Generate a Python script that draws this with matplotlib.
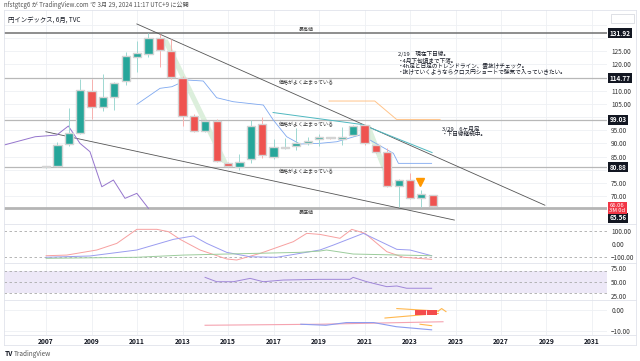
import numpy as np
import matplotlib.pyplot as plt
from matplotlib.lines import Line2D
from matplotlib.patches import Polygon, Rectangle

plt.rcParams['font.family'] = ['Noto Sans CJK JP', 'DejaVu Sans']

# 6-month candles (period start as decimal year)
c_time  = np.arange(2007.0, 2024.01, 0.5)
c_open  = [80.9, 81.3, 89.6, 94.0, 109.9, 103.7, 107.5, 113.7, 122.9, 124.0, 129.9, 125.2,
           115.0, 100.4, 94.8, 98.5, 82.6, 81.1, 83.9, 97.2, 84.7, 88.3, 89.0, 90.0,
           91.5, 92.3, 91.8, 93.2, 97.0, 89.4, 86.6, 73.9, 76.1, 69.1, 70.3]
c_high  = [81.5, 90.5, 103.3, 114.3, 114.3, 116.3, 113.5, 124.8, 128.9, 132.1, 131.6, 129.6,
           115.5, 101.0, 99.0, 99.2, 83.0, 85.9, 98.9, 100.1, 91.5, 91.9, 95.7, 92.5,
           93.5, 92.6, 96.3, 97.0, 97.5, 89.8, 88.1, 76.5, 78.6, 72.3, 70.5]
c_low   = [80.8, 81.0, 89.0, 93.5, 99.1, 102.4, 102.7, 112.2, 117.2, 123.0, 119.1, 114.5,
           96.6, 94.5, 94.5, 83.0, 81.2, 79.9, 82.4, 84.3, 84.2, 87.8, 87.5, 89.5,
           89.0, 91.5, 89.4, 92.8, 89.5, 86.3, 73.5, 65.9, 68.8, 65.9, 65.8]
c_close = [81.2, 89.4, 93.8, 110.3, 103.7, 107.5, 113.1, 123.2, 124.2, 129.9, 125.5, 115.1,
           100.4, 94.8, 98.5, 83.4, 81.5, 83.0, 96.6, 85.6, 88.7, 88.7, 90.0, 91.0,
           92.5, 92.0, 92.5, 96.6, 90.0, 86.7, 73.9, 76.1, 69.1, 70.7, 66.06]

levels       = [131.92, 114.77, 99.03, 80.88, 65.56]
level_names  = ['最高値', '価格がよく止まっている', '価格がよく止まっている', '価格がよく止まっている', '最底値']
price_ticks  = [70, 75, 85, 90, 95, 105, 110, 120, 125]
last_price   = 66.06

# trend lines / indicator lines on price panel
upper_tl_t = [2010.99, 2028.93]
upper_tl_p = [135.4, 66.5]
lower_tl_t = [2006.99, 2024.95]
lower_tl_p = [94.43, 60.86]
teal_t = [2016.98, 2020.89, 2023.97]
teal_p = [101.73, 97.17, 86.52]
orange_t = [2019.44, 2021.45, 2022.41, 2024.32]
orange_p = [106.1, 106.1, 99.1, 99.1]
kijun_t = [2010.99, 2012.01, 2012.53, 2013.18, 2013.91, 2014.50, 2015.23, 2016.55, 2016.99,
           2017.58, 2018.16, 2019.04, 2019.78, 2020.80, 2021.24, 2022.27, 2022.49, 2023.95]
kijun_p = [104.85, 110.93, 111.54, 114.09, 113.71, 107.36, 105.84, 104.58, 98.88,
           92.53, 89.75, 90.02, 90.63, 93.18, 91.28, 86.22, 82.41, 82.41]
lag_t = [2005.15, 2006.52, 2007.47, 2007.98, 2008.49, 2008.93, 2009.45, 2009.96, 2010.47, 2010.99, 2011.50]
lag_p = [89.37, 92.53, 93.17, 96.6, 90.02, 86.83, 73.52, 76.07, 69.11, 71.01, 65.3]
marker_t, marker_p = 2023.44, 75.4

# oscillator panel
osc_red_t = [2007.0, 2007.91, 2009.23, 2010.11, 2010.99, 2011.87, 2012.38, 2012.89, 2013.77, 2014.94, 2015.38,
             2016.41, 2017.87, 2018.46, 2019.04, 2019.92, 2020.44, 2021.02, 2021.98, 2022.71, 2023.95]
osc_red_v = [-90, -85, -46, 5, 113, 113, 95, 36, -46, -115, -123, -72, 18, 82, 74, 44, 113, 82, -59, -102, -118]
osc_blue_t = [2007.0, 2008.93, 2010.99, 2012.6, 2013.47, 2014.06, 2014.94, 2015.97, 2017.14, 2018.16,
              2019.04, 2019.63, 2020.95, 2022.42, 2023.0, 2023.95]
osc_blue_v = [-102, -92, -46, 36, 62, 5, -64, -98, -102, -72, -46, -8, 82, -41, -46, -90]
osc_green_t = [2007.0, 2010.99, 2013.04, 2014.94, 2018.16, 2019.04, 2019.33, 2020.5, 2022.56, 2023.95]
osc_green_v = [-110, -102, -85, -77, -64, -54, -46, -77, -85, -90]

# RSI panel
rsi_t = [2013.99, 2014.5, 2015.23, 2015.97, 2016.55, 2017.43, 2019.04, 2020.36, 2020.5, 2021.1,
         2021.98, 2022.42, 2022.85, 2023.95]
rsi_v = [58.2, 50.5, 50.5, 56.4, 50.5, 53.5, 54.7, 54.7, 58.2, 50.5, 41.8, 43.0, 39.0, 39.0]

# lowest panel
low_pink_t = [2013.99, 2019.04, 2024.45]
low_pink_v = [-7.3, -6.8, -5.6]
low_blue_t = [2018.2, 2019.3, 2020.2, 2021.4, 2022.4, 2023.95]
low_blue_v = [-6.8, -7.3, -6.0, -6.0, -8.0, -9.5]
wedge_a_t, wedge_a_v = [2022.42, 2024.24], [0.77, -0.45]
wedge_b_t, wedge_b_v = [2021.90, 2024.24], [-3.8, -1.6]
caret_t, caret_v = [2024.24, 2024.39, 2024.58], [-0.45, 0.77, -0.7]
short_or_t, short_or_v = [2023.44, 2023.95], [-6.8, -7.5]
box_t, box_v = [2023.22, 2024.2], [-2.3, -0.14]

years = list(range(2007, 2032, 2))

W, H = 640, 361
fig = plt.figure(figsize=(6.4, 3.61), dpi=100)
fig.patch.set_facecolor('white')

def add_ax(l, t, r, b):
    return fig.add_axes([l / W, 1 - b / H, (r - l) / W, (b - t) / H])

XL, XR = 4, 607
ax1 = add_ax(XL, 10, XR, 224)
ax2 = add_ax(XL, 224, XR, 263)
ax3 = add_ax(XL, 263, XR, 300)
ax4 = add_ax(XL, 300, XR, 335)

grid_c = '#eef0f4'
for ax in (ax1, ax2, ax3, ax4):
    ax.set_xlim(2005.15, 2031.66)
    for s in ax.spines.values():
        s.set_visible(False)
    ax.set_xticks(years)
    ax.tick_params(axis='both', length=0, labelsize=4.6, labelcolor='#333333', pad=3)
    ax.yaxis.tick_right()
    ax.grid(True, color=grid_c, lw=0.6)
    ax.set_axisbelow(True)
    if ax is not ax4:
        ax.set_xticklabels([])

# ---- main price panel ----
ax1.set_ylim(59.36, 140.7)
ax1.set_yticks(np.arange(70, 140, 5), minor=False)
ax1.set_yticklabels(['%.2f' % v if v in price_ticks else '' for v in np.arange(70, 140, 5)])

ax1.add_patch(Polygon([(2012.1, 129.5), (2012.35, 129.5), (2015.0, 82.5), (2014.75, 82.5)],
                      closed=True, color='#dcefdc', lw=0, zorder=1))
ax1.add_patch(Polygon([(2021.0, 97), (2021.25, 97), (2022.3, 74), (2022.05, 74)],
                      closed=True, color='#dcefdc', lw=0, zorder=1))

lv_style = {131.92: ('#707070', 1.1), 65.56: ('#b5b5b5', 2.0)}
for lv, name in zip(levels, level_names):
    c, lw = lv_style.get(lv, ('#b8b8b8', 0.9))
    ax1.axhline(lv, color=c, lw=lw, zorder=2)
    if name == '最高値':
        ax1.text(2018.1, lv + 0.6, name, fontsize=3.6, color='#333', va='bottom')
    elif name == '最底値':
        ax1.text(2018.1, lv - 0.8, name, fontsize=3.6, color='#333', va='top')
    else:
        ax1.text(2017.25, lv - 0.8, name, fontsize=3.6, color='#333', va='top')

ax1.plot(upper_tl_t, upper_tl_p, color='#555', lw=0.6, zorder=3)
ax1.plot(lower_tl_t, lower_tl_p, color='#555', lw=0.6, zorder=3)
ax1.plot(teal_t, teal_p, color='#4fb8c0', lw=0.7, zorder=3)
ax1.plot(orange_t, orange_p, color='#ffc48a', lw=0.7, zorder=3)
ax1.plot(kijun_t, kijun_p, color='#7ea8f0', lw=0.6, zorder=3)
ax1.plot(lag_t, lag_p, color='#9575cd', lw=0.7, zorder=3)

green, red = '#26a69a', '#ef5350'
for t, o, h, l, c in zip(c_time, c_open, c_high, c_low, c_close):
    col = green if c >= o else red
    wick = '#9ed8d2' if c >= o else '#f7b0ae'
    ax1.vlines(t, l, h, color=wick, lw=0.7, zorder=4)
    bot = min(o, c)
    hgt = max(abs(c - o), 0.5)
    ax1.bar(t, hgt, bottom=bot, width=0.36, color=col, edgecolor='#d4d4d4', lw=1.0, zorder=5)

ax1.plot(marker_t, marker_p, marker='v', color='#ff9800', ms=5.5, zorder=6)

note1 = ('2/19　現在下目線。\n・4月下旬頃まで下落。\n・4h足と日足のトレンドライン、雲抜けチェック。\n'
         '・抜けていくようならクロス円ショートで強気で入っていきたい。')
ax1.text(2022.45, 125.3, note1, fontsize=4.1, color='#131722', va='top', ha='left', linespacing=1.05)
note2 = '3/29　6ヶ月足\n・下目線継続中。'
ax1.text(2024.4, 96.7, note2, fontsize=4.1, color='#131722', va='top', ha='left', linespacing=1.05)

ax1.text(0.007, 0.955, '円インデックス, 6月, TVC', transform=ax1.transAxes, fontsize=4.6,
         color='#131722', va='center', ha='left')

# price-axis labels for the levels and the last price
ytr = ax1.get_yaxis_transform()
for lv in levels:
    ypos = lv if lv != 65.56 else 61.7
    ax1.text(1.004, ypos, '%.2f' % lv, transform=ytr, fontsize=4.6, color='white', fontweight='bold',
             va='center', ha='left', clip_on=False, zorder=10,
             bbox=dict(boxstyle='square,pad=0.22', fc='#131722', ec='none'))
ax1.text(1.004, last_price - 0.5, '%.2f\n3M 0d' % last_price, transform=ytr, fontsize=4.2, color='white',
         va='center', ha='left', linespacing=0.95, clip_on=False, zorder=11,
         bbox=dict(boxstyle='square,pad=0.22', fc='#f23645', ec='none'))

# ---- oscillator panel ----
ax2.set_ylim(-146, 154)
ax2.set_yticks([100, 0, -100])
ax2.set_yticklabels(['100.00', '0.00', '−100.00'])
ax2.grid(False, axis='y')
for v in (100, -100):
    ax2.axhline(v, color='#aaaaaa', lw=0.6, ls=(0, (3, 3)))
ax2.plot(osc_red_t, osc_red_v, color='#f7a0a0', lw=0.7)
ax2.plot(osc_blue_t, osc_blue_v, color='#9a9cf0', lw=0.7)
ax2.plot(osc_green_t, osc_green_v, color='#9ccc9c', lw=0.7)

# ---- RSI panel ----
ax3.set_ylim(18.3, 83.5)
ax3.set_yticks([75, 50, 25])
ax3.set_yticklabels(['75.00', '50.00', '25.00'])
ax3.grid(False, axis='y')
ax3.axhspan(30, 70, color='#ede8f7', lw=0)
for v in (70, 50, 30):
    ax3.axhline(v, color='#aaaaaa', lw=0.6, ls=(0, (3, 3)))
ax3.plot(rsi_t, rsi_v, color='#9f86d8', lw=0.7)

# ---- lowest panel ----
ax4.set_ylim(-12.0, 4.9)
ax4.set_yticks([0, -10])
ax4.set_yticklabels(['0.00', '−10.00'])
ax4.set_xticklabels([str(y) for y in years])
ax4.tick_params(axis='x', labelsize=4.8, labelcolor='#131722', pad=2)
for lab in ax4.get_xticklabels():
    lab.set_fontweight('bold')
ax4.plot(low_pink_t, low_pink_v, color='#f5a3b0', lw=0.8)
ax4.plot(low_blue_t, low_blue_v, color='#8c9cf0', lw=0.8)
ax4.plot(wedge_a_t, wedge_a_v, color='#ffb74d', lw=0.8)
ax4.plot(wedge_b_t, wedge_b_v, color='#ffb74d', lw=0.8)
ax4.plot(caret_t, caret_v, color='#ffb74d', lw=0.8)
ax4.plot(short_or_t, short_or_v, color='#ffb74d', lw=0.8)
ax4.add_patch(Rectangle((box_t[0], box_v[0]), box_t[1] - box_t[0], box_v[1] - box_v[0],
                        fc='#f44c4c', ec='none', zorder=4))
ax4.vlines(np.mean(box_t), box_v[0], box_v[1], color='white', lw=0.6, zorder=5)

# ---- frame, separators and page text ----
def hline(y, x0, x1, c, lw=0.6):
    fig.add_artist(Line2D([x0 / W, x1 / W], [1 - y / H, 1 - y / H], color=c, lw=lw))

def vline(x, y0, y1, c, lw=0.6):
    fig.add_artist(Line2D([x / W, x / W], [1 - y0 / H, 1 - y1 / H], color=c, lw=lw))

for y in (224, 263, 300, 335):
    hline(y, XL, 636, '#e0e3eb')
hline(10, XL, 636, '#e0e3eb')
hline(345, XL, 636, '#e0e3eb')
vline(XL, 10, 345, '#e0e3eb')
vline(636, 10, 345, '#e0e3eb')

fig.add_artist(Rectangle((611 / W, 1 - 23 / H), 23 / W, 9 / H, fc='white', ec='#d0d3da', lw=0.5))

fig.text(4 / W, 1 - 5 / H, 'nfstgtcg6 が TradingView.com で 3月 29, 2024 11:17 UTC+9 に公開',
         fontsize=4.4, color='#555555', va='center', ha='left')
fig.text(5 / W, 1 - 354 / H, 'TV', fontsize=4.8, color='#131722', fontweight='bold', va='center', ha='left')
fig.text(14 / W, 1 - 354 / H, 'TradingView', fontsize=4.6, color='#555555', va='center', ha='left')

fig.savefig('out.png', dpi=100, facecolor='white')
